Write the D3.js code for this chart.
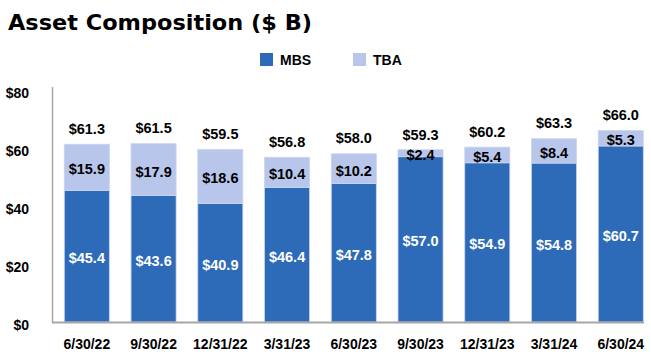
<!DOCTYPE html>
<html><head><meta charset="utf-8">
<script src="https://cdn.jsdelivr.net/npm/d3@7"></script>
<style>
body{margin:0;background:#fff;}
svg{display:block;}
text{font-family:"Liberation Sans",Arial,sans-serif;font-weight:bold;}
</style></head>
<body><svg id="c" width="651" height="359"></svg>
<script>
const categories = ["6/30/22","9/30/22","12/31/22","3/31/23","6/30/23","9/30/23","12/31/23","3/31/24","6/30/24"];
const mbs = [45.4,43.6,40.9,46.4,47.8,57.0,54.9,54.8,60.7];
const tba = [15.9,17.9,18.6,10.4,10.2,2.4,5.4,8.4,5.3];
const totals = [61.3,61.5,59.5,56.8,58.0,59.3,60.2,63.3,66.0];
const yTicks = [0,20,40,60,80];
const seriesNames = ["MBS","TBA"];
const colors = {MBS:"#2d6bb9", TBA:"#b7c6ea"};

const svg = d3.select("#c");
const x = d3.scaleBand().domain(categories).range([64.3,643.3]).paddingInner(0.325).paddingOuter(0);
const y = d3.scaleLinear().domain([0,80]).range([322,90]);

// title
svg.append("text").attr("x",8).attr("y",30).text("Asset Composition ($ B)")
  .style("font-family","'DejaVu Sans',sans-serif").style("font-size","21px").attr("fill","#000")
  .attr("textLength",304).attr("lengthAdjust","spacingAndGlyphs");

// legend
const legX = [260,353];
seriesNames.forEach((s,i)=>{
  svg.append("rect").attr("x",legX[i]).attr("y",53).attr("width",13).attr("height",13).attr("fill",colors[s]);
  svg.append("text").attr("x",legX[i]+20).attr("y",65).text(s).style("font-size","14px").attr("fill","#000");
});

// y tick labels
const yAxis = d3.axisLeft(y).tickValues(yTicks).tickFormat(d=>"$"+d).tickSize(0).tickPadding(0);
const ga = svg.append("g").attr("transform","translate(29,3)").call(yAxis);
ga.select(".domain").remove();
ga.selectAll("text").style("font-size","14px").style("font-family","'Liberation Sans',Arial,sans-serif").style("font-weight","bold").attr("fill","#000");

// bars
const stackData = categories.map((c,i)=>({cat:c, MBS:mbs[i], TBA:tba[i]}));
const stack = d3.stack().keys(seriesNames)(stackData);
const g = svg.append("g");
stack.forEach(layer=>{
  g.selectAll(null).data(layer).enter().append("rect")
    .attr("x",d=>x(d.data.cat)).attr("width",x.bandwidth())
    .attr("y",d=>y(d[1])).attr("height",d=>y(d[0])-y(d[1]))
    .attr("fill",colors[layer.key]).attr("stroke","#c9d5ef").attr("stroke-width",0.8);
  g.selectAll(null).data(layer).enter().append("text")
    .attr("x",d=>x(d.data.cat)+x.bandwidth()/2)
    .attr("y",d=>(y(d[0])+y(d[1]))/2+2).attr("dy","0.35em")
    .attr("text-anchor","middle").style("font-size","14.5px")
    .attr("fill",layer.key==="MBS"?"#fff":"#000")
    .text(d=>"$"+(d[1]-d[0]).toFixed(1));
});
// totals
g.selectAll(null).data(categories).enter().append("text")
  .attr("x",c=>x(c)+x.bandwidth()/2).attr("y",(c,i)=>y(totals[i])-15.5).attr("dy","0.35em")
  .attr("text-anchor","middle").style("font-size","14.5px").attr("fill","#000")
  .text((c,i)=>"$"+totals[i].toFixed(1));

// axis lines
svg.append("line").attr("x1",52.5).attr("x2",52.5).attr("y1",87).attr("y2",323).attr("stroke","#a6a6a6").attr("stroke-width",1.5);
svg.append("line").attr("x1",52).attr("x2",644).attr("y1",322.5).attr("y2",322.5).attr("stroke","#a6a6a6").attr("stroke-width",2);

// x labels
const xAxis = d3.axisBottom(x).tickSize(0).tickPadding(0);
const gx = svg.append("g").attr("transform","translate(0,339)").call(xAxis);
gx.select(".domain").remove();
gx.selectAll("text").style("font-size","14px").style("font-family","'Liberation Sans',Arial,sans-serif").style("font-weight","bold").attr("fill","#000");
</script></body></html>
